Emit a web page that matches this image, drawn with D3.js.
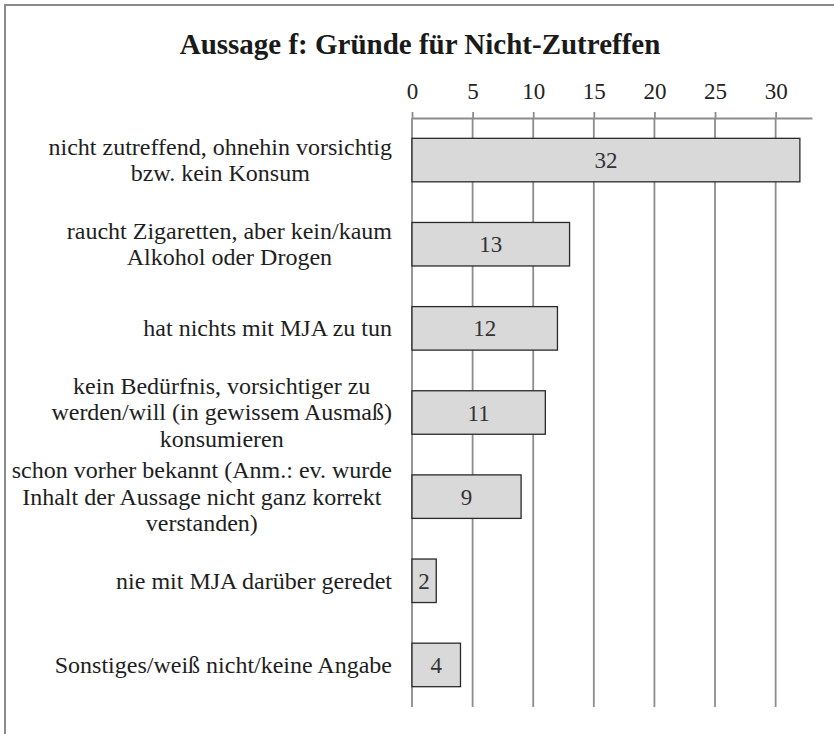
<!DOCTYPE html>
<html>
<head>
<meta charset="utf-8">
<script src="https://cdn.jsdelivr.net/npm/d3@7"></script>
<style>
  html, body { margin: 0; padding: 0; background: #fff; }
  svg { display: block; }
</style>
</head>
<body>
<svg id="chart" width="834" height="734"></svg>
<script>
// Reasons given, one entry per bar (line breaks as displayed)
const categories = [
  "nicht zutreffend, ohnehin vorsichtig\nbzw. kein Konsum",
  "raucht Zigaretten, aber kein/kaum\nAlkohol oder Drogen",
  "hat nichts mit MJA zu tun",
  "kein Bedürfnis, vorsichtiger zu\nwerden/will (in gewissem Ausmaß)\nkonsumieren",
  "schon vorher bekannt (Anm.: ev. wurde\nInhalt der Aussage nicht ganz korrekt\nverstanden)",
  "nie mit MJA darüber geredet",
  "Sonstiges/weiß nicht/keine Angabe"
];
const counts = [32, 13, 12, 11, 9, 2, 4];
const tickValues = [0, 5, 10, 15, 20, 25, 30];
const title = "Aussage f: Gründe für Nicht-Zutreffen";

const svg = d3.select("#chart");
const serif = "Liberation Serif";

// outer frame (left and top edges)
svg.append("path")
  .attr("d", "M5,734V5H834")
  .attr("fill", "none")
  .attr("stroke", "#8a8a8a")
  .attr("stroke-width", 2);

svg.append("text")
  .attr("x", 420).attr("y", 54)
  .attr("text-anchor", "middle")
  .style("font-family", serif)
  .attr("font-weight", "bold")
  .attr("font-size", 29)
  .attr("fill", "#1a1a1a")
  .text(title);

const x = d3.scaleLinear().domain([0, 33]).range([412, 812]);
const y = d3.scaleBand().domain(categories)
  .range([118, 707]).paddingInner(0.483).paddingOuter(0.2415);

const gridColor = "#8c8c8c";

// vertical gridlines
svg.append("g").selectAll("line")
  .data(tickValues).join("line")
  .attr("x1", d => x(d)).attr("x2", d => x(d))
  .attr("y1", 118).attr("y2", 707)
  .attr("stroke", gridColor).attr("stroke-width", 1.8);

// top axis
const axis = svg.append("g")
  .attr("transform", "translate(0,118)")
  .call(d3.axisTop(x).tickValues(tickValues).tickSize(6).tickSizeOuter(0).tickPadding(13));
axis.attr("font-family", null).attr("font-size", null);
axis.select(".domain").attr("stroke", gridColor).attr("stroke-width", 2);
axis.selectAll(".tick line").attr("stroke", gridColor).attr("stroke-width", 1.8);
axis.selectAll(".tick text")
  .style("font-family", serif).attr("font-size", 23).attr("fill", "#222");

// bars
svg.append("g").selectAll("rect")
  .data(categories).join("rect")
  .attr("x", x(0))
  .attr("y", d => y(d))
  .attr("width", (d, i) => x(counts[i]) - x(0))
  .attr("height", y.bandwidth())
  .attr("fill", "#d9d9d9")
  .attr("stroke", "#2a2a2a")
  .attr("stroke-width", 1.3);

// value labels inside bars
svg.append("g").selectAll("text")
  .data(categories).join("text")
  .attr("x", (d, i) => (x(0) + x(counts[i])) / 2)
  .attr("y", d => y(d) + y.bandwidth() / 2)
  .attr("dy", "0.35em")
  .attr("text-anchor", "middle")
  .style("font-family", serif).attr("font-size", 23)
  .attr("fill", "#333")
  .text((d, i) => counts[i]);

// category labels: block right-aligned to the axis, lines centred within the block
const labelRight = 392;
const lineH = 26.5;
const labels = svg.append("g");
categories.forEach(cat => {
  const lines = cat.split("\n");
  const g = labels.append("g");
  const texts = lines.map(l => g.append("text")
    .style("font-family", serif).attr("font-size", 24)
    .attr("fill", "#1e1e1e")
    .attr("text-anchor", "middle")
    .text(l));
  const blockW = d3.max(texts, t => t.node().getComputedTextLength());
  const cy = y(cat) + y.bandwidth() / 2;
  const first = cy - (lines.length - 1) * lineH / 2;
  texts.forEach((t, j) => t
    .attr("x", labelRight - blockW / 2)
    .attr("y", first + j * lineH)
    .attr("dy", "0.33em"));
});
</script>
</body>
</html>
